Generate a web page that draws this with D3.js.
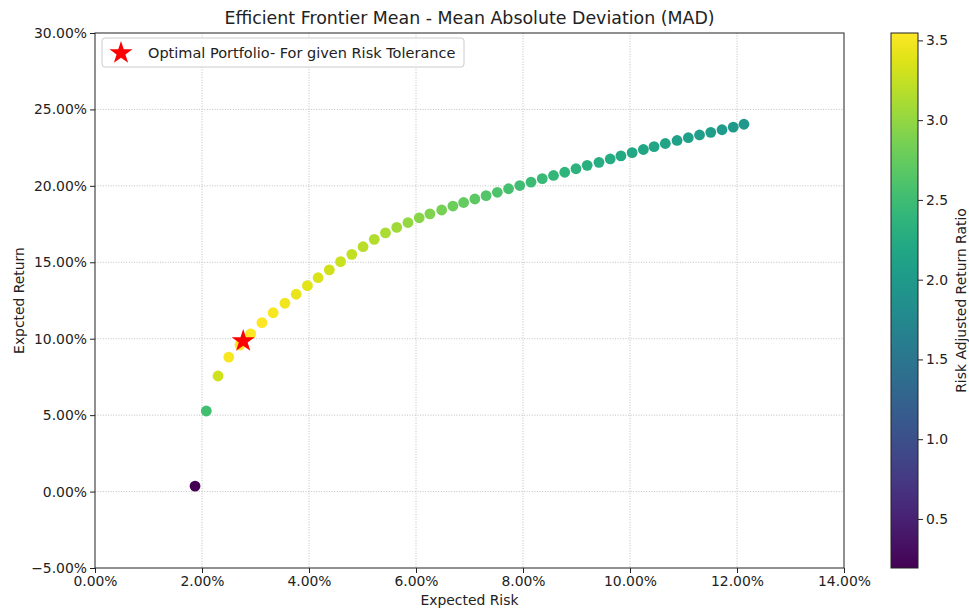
<!DOCTYPE html>
<html>
<head>
<meta charset="utf-8">
<script src="https://cdn.jsdelivr.net/npm/d3@7"></script>
<style>
  body { margin: 0; background: #fff; }
  svg { font-family: "DejaVu Sans", sans-serif; }
</style>
</head>
<body>
<svg></svg>
<script>
// expected risk (MAD, %) for each frontier portfolio
var riskValues = [1.87, 2.08, 2.30, 2.50, 2.71, 2.91, 3.12, 3.33, 3.55, 3.76,
                  3.97, 4.17, 4.38, 4.59, 4.80, 5.01, 5.22, 5.43, 5.64, 5.85,
                  6.06, 6.26, 6.48, 6.69, 6.89, 7.10, 7.31, 7.52, 7.73, 7.94,
                  8.15, 8.36, 8.57, 8.78, 8.99, 9.20, 9.42, 9.63, 9.83, 10.04,
                  10.25, 10.45, 10.66, 10.88, 11.09, 11.30, 11.51, 11.72, 11.93, 12.13];
// expected return (%)
var returnValues = [0.36, 5.27, 7.56, 8.80, 9.60, 10.32, 11.05, 11.70, 12.32, 12.91,
                    13.47, 13.99, 14.50, 15.04, 15.52, 16.02, 16.50, 16.92, 17.28, 17.60,
                    17.91, 18.17, 18.42, 18.68, 18.91, 19.14, 19.36, 19.58, 19.81, 20.02,
                    20.24, 20.47, 20.68, 20.89, 21.12, 21.34, 21.54, 21.76, 21.96, 22.17,
                    22.38, 22.57, 22.77, 22.97, 23.15, 23.33, 23.50, 23.67, 23.84, 24.03];
// optimal portfolio for the given risk tolerance
var optimalRisk = 2.77;
var optimalReturn = 9.85;

var xTicks = [0, 2, 4, 6, 8, 10, 12, 14];
var yTicks = [-5, 0, 5, 10, 15, 20, 25, 30];
var cbTicks = [0.5, 1.0, 1.5, 2.0, 2.5, 3.0, 3.5];

window.onload = function(){
    var W = 969, H = 609;
    var svgCanvas = d3.select("svg")
        .attr("width", W)
        .attr("height", H);

    var left = 95, right = 844, top = 33, bottom = 568;

    var data = riskValues.map(function(r, i){
        return {risk: r, ret: returnValues[i], ratio: returnValues[i] / r};
    });

    var x = d3.scaleLinear().domain([0, 14]).range([left, right]);
    var y = d3.scaleLinear().domain([-5, 30]).range([bottom, top]);

    var ratioExtent = d3.extent(data, function(d){ return d.ratio; });
    var color = d3.scaleSequential(d3.interpolateViridis).domain(ratioExtent);

    var pct = function(v){ return d3.format(".2f")(v) + "%"; };

    // grid
    var grid = svgCanvas.append("g");
    grid.selectAll(".vg").data(xTicks.slice(1, -1)).enter().append("line")
        .attr("x1", function(d){ return x(d); }).attr("x2", function(d){ return x(d); })
        .attr("y1", top).attr("y2", bottom);
    grid.selectAll(".hg").data(yTicks.slice(1, -1)).enter().append("line")
        .attr("y1", function(d){ return y(d); }).attr("y2", function(d){ return y(d); })
        .attr("x1", left).attr("x2", right);
    grid.selectAll("line")
        .attr("stroke", "#b0b0b0")
        .attr("stroke-width", 0.8)
        .attr("stroke-dasharray", "1,1.6");

    // axes
    var xAxis = svgCanvas.append("g")
        .attr("transform", "translate(0," + bottom + ")")
        .call(d3.axisBottom(x).tickValues(xTicks).tickFormat(pct).tickSizeOuter(0).tickSize(5).tickPadding(3));
    var yAxis = svgCanvas.append("g")
        .attr("transform", "translate(" + left + ",0)")
        .call(d3.axisLeft(y).tickValues(yTicks).tickFormat(pct).tickSizeOuter(0).tickSize(5).tickPadding(3));
    [xAxis, yAxis].forEach(function(a){
        a.selectAll("text").attr("font-size", 13.9).attr("fill", "#222")
            .attr("font-family", "DejaVu Sans");
        a.selectAll(".tick line").attr("stroke", "#222");
        a.select(".domain").remove();
    });

    // frame
    svgCanvas.append("rect")
        .attr("x", left).attr("y", top)
        .attr("width", right - left).attr("height", bottom - top)
        .attr("fill", "none").attr("stroke", "#222").attr("stroke-width", 1);

    // points
    svgCanvas.append("g").selectAll("circle")
        .data(data).enter()
        .append("circle")
        .attr("cx", function(d){ return x(d.risk); })
        .attr("cy", function(d){ return y(d.ret); })
        .attr("r", 5.4)
        .attr("fill", function(d){ return color(d.ratio); });

    // optimal star
    var star = d3.symbol().type(d3.symbolStar).size(165);
    svgCanvas.append("path")
        .attr("d", star())
        .attr("transform", "translate(" + x(optimalRisk) + "," + y(optimalReturn) + ")")
        .attr("fill", "red");

    // legend
    svgCanvas.append("rect")
        .attr("x", 102).attr("y", 38).attr("width", 362).attr("height", 29)
        .attr("rx", 3).attr("fill", "#fff").attr("fill-opacity", 0.8)
        .attr("stroke", "#cccccc").attr("stroke-width", 1);
    svgCanvas.append("path")
        .attr("d", star())
        .attr("transform", "translate(121,53)")
        .attr("fill", "red");
    svgCanvas.append("text")
        .attr("x", 148).attr("y", 58)
        .attr("font-size", 14.5).attr("fill", "#222")
        .text("Optimal Portfolio- For given Risk Tolerance");

    // title and labels
    svgCanvas.append("text")
        .attr("x", (left + right) / 2).attr("y", 24)
        .attr("text-anchor", "middle").attr("font-size", 17.4).attr("fill", "#222")
        .text("Efficient Frontier Mean - Mean Absolute Deviation (MAD)");
    svgCanvas.append("text")
        .attr("x", (left + right) / 2).attr("y", 605)
        .attr("text-anchor", "middle").attr("font-size", 13.9).attr("fill", "#222")
        .text("Expected Risk");
    svgCanvas.append("text")
        .attr("transform", "translate(24," + (top + bottom) / 2 + ") rotate(-90)")
        .attr("text-anchor", "middle").attr("font-size", 13.9).attr("fill", "#222")
        .text("Expcted Return");

    // colorbar
    var cbLeft = 891, cbRight = 918;
    var cbScale = d3.scaleLinear().domain(ratioExtent).range([bottom, top]);
    var grad = svgCanvas.append("defs").append("linearGradient")
        .attr("id", "cbGrad")
        .attr("x1", 0).attr("y1", 1).attr("x2", 0).attr("y2", 0);
    d3.range(0, 1.0001, 0.05).forEach(function(t){
        grad.append("stop")
            .attr("offset", t)
            .attr("stop-color", d3.interpolateViridis(t));
    });
    svgCanvas.append("rect")
        .attr("x", cbLeft).attr("y", top)
        .attr("width", cbRight - cbLeft).attr("height", bottom - top)
        .attr("fill", "url(#cbGrad)")
        .attr("stroke", "#222").attr("stroke-width", 1);
    var cbAxis = svgCanvas.append("g")
        .attr("transform", "translate(" + cbRight + ",0)")
        .call(d3.axisRight(cbScale).tickValues(cbTicks).tickFormat(d3.format(".1f")).tickSize(5).tickPadding(3));
    cbAxis.select(".domain").remove();
    cbAxis.selectAll("text").attr("font-size", 13.9).attr("fill", "#222")
        .attr("font-family", "DejaVu Sans");
    cbAxis.selectAll(".tick line").attr("stroke", "#222");
    svgCanvas.append("text")
        .attr("transform", "translate(966," + (top + bottom) / 2 + ") rotate(-90)")
        .attr("text-anchor", "middle").attr("font-size", 13.9).attr("fill", "#222")
        .text("Risk Adjusted Return Ratio");
};
</script>
</body>
</html>
